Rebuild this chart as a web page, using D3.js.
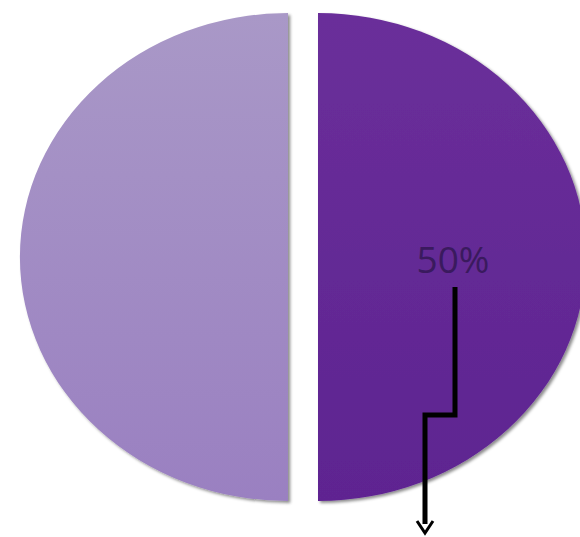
<!DOCTYPE html>
<html>
<head>
<meta charset="utf-8">
<script src="https://cdn.jsdelivr.net/npm/d3@7"></script>
<style>
html,body{margin:0;padding:0;background:#fff;}
svg{display:block;}
</style>
</head>
<body>
<div id="chart"></div>
<script>
const categories = ["A", "B"];
const values = [50, 50];
const labels = ["50%", ""];
const colors = [["#6a2f9a", "#5e2491"], ["#a998c7", "#9a80c1"]];

const W = 580, H = 537;
const cx = 303, cy = 257, ry = 244, rx = 268, explode = 15;

const svg = d3.select("#chart").append("svg").attr("width", W).attr("height", H);
const defs = svg.append("defs");

colors.forEach((c, i) => {
  const g = defs.append("linearGradient").attr("id", "g" + i)
    .attr("x1", 0).attr("y1", 0).attr("x2", 0).attr("y2", 1);
  g.append("stop").attr("offset", "0%").attr("stop-color", c[0]);
  g.append("stop").attr("offset", "100%").attr("stop-color", c[1]);
});

const f = defs.append("filter").attr("id", "sh").attr("x", "-10%").attr("y", "-10%").attr("width", "120%").attr("height", "120%");
f.append("feDropShadow").attr("dx", 2).attr("dy", 2).attr("stdDeviation", 1.5)
  .attr("flood-color", "#000").attr("flood-opacity", 0.45);

const pie = d3.pie().sort(null).value(d => d)(values);
const arc = d3.arc().innerRadius(0).outerRadius(ry);

const g = svg.append("g");
pie.forEach((d, i) => {
  const mid = (d.startAngle + d.endAngle) / 2;
  const ox = Math.sin(mid) * explode, oy = -Math.cos(mid) * explode;
  g.append("path")
    .attr("d", arc(d))
    .attr("transform", `translate(${cx + ox},${cy + oy}) scale(${rx / ry},1)`)
    .attr("fill", `url(#g${i})`)
    .attr("filter", "url(#sh)");
});

// label
svg.append("text")
  .attr("x", 453).attr("y", 273)
  .attr("text-anchor", "middle")
  .attr("font-family", "Open Sans, sans-serif")
  .attr("font-size", 37)
  .attr("fill", "#3a1a5e")
  .text(labels[0]);

// leader arrow
svg.append("path")
  .attr("d", "M455,287 V415 H425 V524")
  .attr("fill", "none").attr("stroke", "#000").attr("stroke-width", 5);
svg.append("path")
  .attr("d", "M417,521 L425,533 L433,521")
  .attr("fill", "none").attr("stroke", "#000").attr("stroke-width", 3);
</script>
</body>
</html>
